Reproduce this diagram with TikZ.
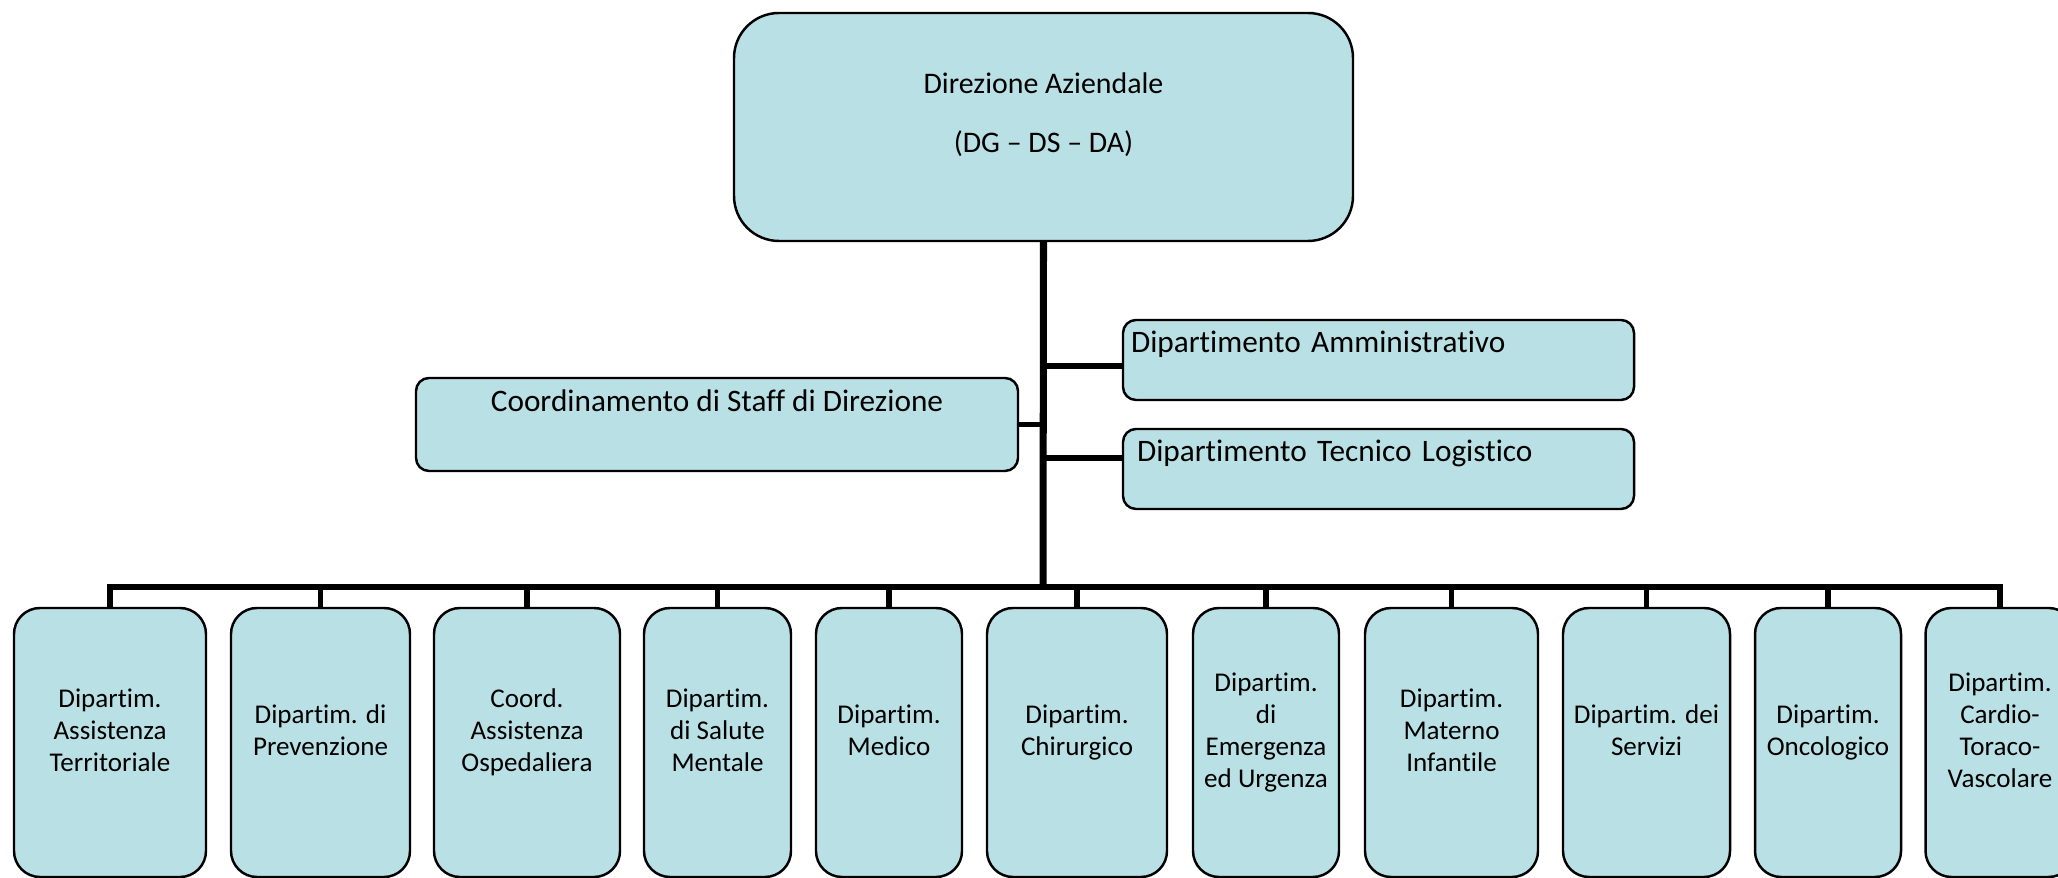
\documentclass[tikz,border=0pt]{standalone}
\usepackage{fontspec}
\setmainfont{Carlito}[Ligatures=NoCommon]
\usepackage{tikz}
\definecolor{boxblue}{RGB}{185,224,228}
\newcommand{\padline}{\\[-2.3pt]\mbox{}}

\begin{document}
\begin{tikzpicture}
  [topbox/.style={rectangle,rounded corners=0.45cm,draw=black,line width=0.7pt,fill=boxblue,inner sep=0pt,minimum width=6.19cm,minimum height=2.28cm,align=center,font=\fontsize{8.5}{8.4}\selectfont},
  staffbox/.style={rectangle,rounded corners=0.13cm,draw=black,line width=0.7pt,fill=boxblue,inner sep=0pt,minimum width=6.02cm,minimum height=0.93cm,align=center,font=\fontsize{8.9}{13.4}\selectfont},
  deptbox/.style={rectangle,rounded corners=0.13cm,draw=black,line width=0.7pt,fill=boxblue,inner sep=0.08cm,minimum width=5.11cm,minimum height=0.80cm,text width=4.95cm,align=left,font=\fontsize{8.9}{10.6}\selectfont},
  unitbox/.style={rectangle,rounded corners=0.26cm,draw=black,line width=0.7pt,fill=boxblue,inner sep=0pt,minimum height=2.69cm,align=center,font=\fontsize{7.7}{9.1}\selectfont},
  trunk/.style={draw=black,line width=2pt},
  branch/.style={draw=black,line width=1.6pt}]
  \useasboundingbox (0,0) rectangle (20.58,8.78);

  \node[topbox] (dir) at (10.435,7.51) {Direzione Aziendale\\\mbox{}\\(DG -- DS -- DA)\\\mbox{}};

  \node[staffbox] (staff) at (7.17,4.535) {Coordinamento di Staff di Direzione\\\mbox{}};
  \node[deptbox] (amm) at (13.785,5.18) {Dipartimento Amministrativo\\\mbox{}};
  \node[deptbox] (tec) at (13.785,4.09) {\hspace*{0.06cm}Dipartimento Tecnico Logistico\\\mbox{}};

  \node[unitbox,minimum width=1.92cm] (ast) at (1.10,1.355) {Dipartim.\\Assistenza\\Territoriale\padline};
  \node[unitbox,minimum width=1.79cm] (prev) at (3.205,1.355) {Dipartim. di\\Prevenzione\padline};
  \node[unitbox,minimum width=1.86cm] (osp) at (5.27,1.355) {Coord.\\Assistenza\\Ospedaliera\padline};
  \node[unitbox,minimum width=1.47cm] (ment) at (7.175,1.355) {Dipartim.\\di Salute\\Mentale\padline};
  \node[unitbox,minimum width=1.46cm] (med) at (8.89,1.355) {Dipartim.\\Medico\padline};
  \node[unitbox,minimum width=1.80cm] (chir) at (10.77,1.355) {Dipartim.\\Chirurgico\padline};
  \node[unitbox,minimum width=1.46cm] (emer) at (12.66,1.355) {Dipartim.\\di\\Emergenza\\ed Urgenza\padline};
  \node[unitbox,minimum width=1.73cm] (mat) at (14.515,1.355) {Dipartim.\\Materno\\Infantile\padline};
  \node[unitbox,minimum width=1.67cm] (serv) at (16.465,1.355) {Dipartim. dei\\Servizi\padline};
  \node[unitbox,minimum width=1.46cm] (onco) at (18.28,1.355) {Dipartim.\\Oncologico\padline};
  \node[unitbox,minimum width=1.49cm] (card) at (20.00,1.355) {Dipartim.\\Cardio-\\Toraco-\\Vascolare\padline};

  \coordinate (bus) at (10.43,2.91);

  \draw [trunk] (dir.south) -- (bus);

  \draw [branch] (staff.east) -- (staff.east -| bus);
  \draw [branch] ([yshift=-0.06cm]amm.west) -- ([yshift=-0.06cm]amm.west -| bus);
  \draw [branch] ([yshift=0.11cm]tec.west) -- ([yshift=0.11cm]tec.west -| bus);

  \draw [branch,line cap=rect] (ast.north |- bus) -- (card.north |- bus);
  \draw [branch] (ast.north) -- (ast.north |- bus);
  \draw [branch] (prev.north) -- (prev.north |- bus);
  \draw [branch] (osp.north) -- (osp.north |- bus);
  \draw [branch] (ment.north) -- (ment.north |- bus);
  \draw [branch] (med.north) -- (med.north |- bus);
  \draw [branch] (chir.north) -- (chir.north |- bus);
  \draw [branch] (emer.north) -- (emer.north |- bus);
  \draw [branch] (mat.north) -- (mat.north |- bus);
  \draw [branch] (serv.north) -- (serv.north |- bus);
  \draw [branch] (onco.north) -- (onco.north |- bus);
  \draw [branch] (card.north) -- (card.north |- bus);

\end{tikzpicture}
\end{document}
